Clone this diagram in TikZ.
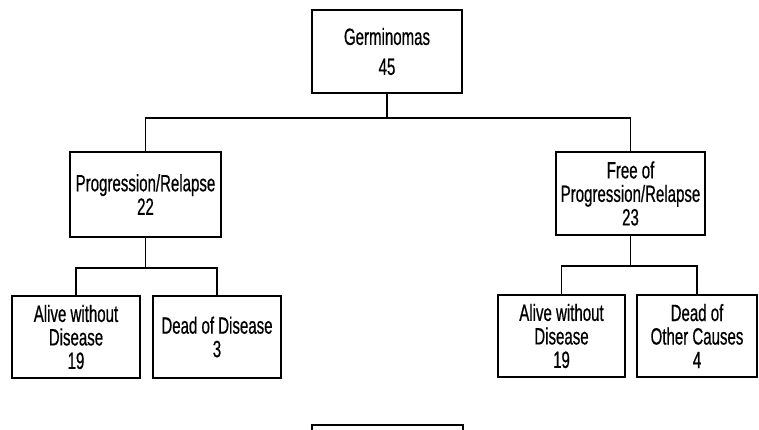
\documentclass[tikz,border=0pt]{standalone}
\usepackage{fontspec}
\setmainfont[FakeStretch=0.64,FakeBold=0.6]{Liberation Sans}
\usepackage{tikz}
\usetikzlibrary{positioning}

\begin{document}
\begin{tikzpicture}[
    x=1pt,y=1pt,
    box/.style={draw,line width=1.5pt,align=center,inner sep=0pt,minimum height=83pt,
                font=\fontsize{23.5}{23.5}\selectfont},
    leaf/.style={box,minimum width=128pt,minimum height=82pt},
    link/.style={line width=1.5pt}
  ]
    \clip (0,0) rectangle (759,-429);

    \node[box,minimum width=150pt,font=\fontsize{23.5}{30}\selectfont] (germ) at (387,-51.5) {Germinomas\\45};
    \node[box,minimum width=151pt,minimum height=85pt] (prog) at (145.5,-194.5) {Progression/Relapse\\22};
    \node[box,minimum width=149pt] (free) at (630.5,-193.5) {Free of\\Progression/Relapse\\23};

    \node[leaf] (alivea) at (76,-337) {Alive without\\Disease\\19};
    \node[leaf] (deada) at (217,-337) {Dead of Disease\\3};
    \node[leaf,minimum width=127pt] (aliveb) at (561.5,-336) {Alive without\\Disease\\19};
    \node[leaf,minimum width=120pt] (deadb) at (697,-336) {Dead of\\Other Causes\\4};

    % next level, cut off by the page edge
    \node[box,minimum width=151pt] (nxt) at (387.5,-466.5) {};

    \draw[link] (germ.south) -- ++(0,-24) -| (prog.north);
    \draw[link] (germ.south) -- ++(0,-24) -| (free.north);
    \draw[link] (prog.south) -- ++(0,-30) -| (alivea.north);
    \draw[link] (prog.south) -- ++(0,-30) -| (deada.north);
    \draw[link] (free.south) -- ++(0,-30) -| (aliveb.north);
    \draw[link] (free.south) -- ++(0,-30) -| (deadb.north);
  \end{tikzpicture}
\end{document}
